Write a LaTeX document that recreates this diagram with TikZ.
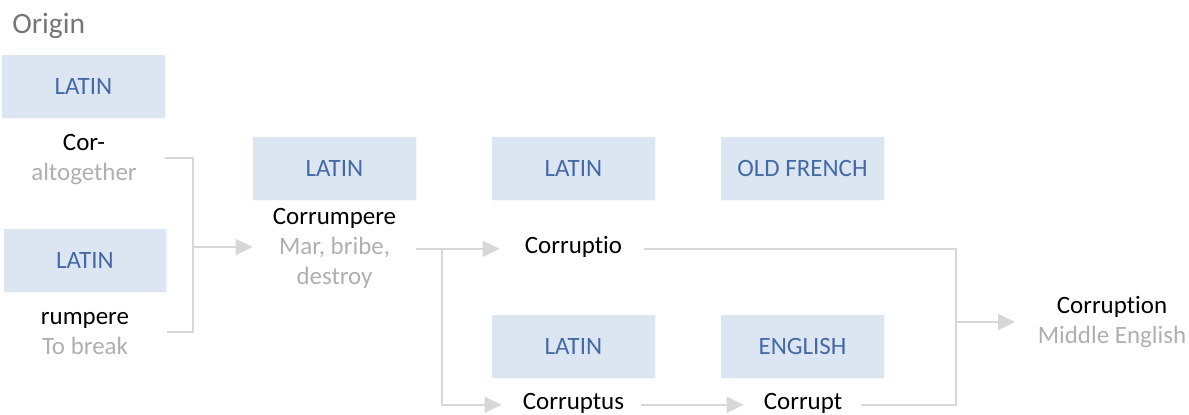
\documentclass[tikz,border=0pt]{standalone}
\usepackage{fontspec}
\setmainfont{Carlito}[Ligatures={NoCommon,NoRare}]
\usepackage{xcolor}
\definecolor{BoxBlue}{RGB}{220,230,242}
\definecolor{LangBlue}{RGB}{68,105,165}
\definecolor{Gloss}{RGB}{175,175,175}
\definecolor{Title}{RGB}{118,118,118}
\definecolor{Link}{RGB}{215,215,215}
\usetikzlibrary{arrows.meta,positioning,shadows}

\begin{document}
\begin{tikzpicture}[x=0.02cm, y=-0.02cm,
	lang/.style={fill=BoxBlue, text=LangBlue, minimum width=3.26cm, minimum height=1.26cm, inner sep=0pt,
		drop shadow={shadow xshift=0.6pt, shadow yshift=-0.6pt, opacity=0.06},
		font=\fontsize{14.2}{17}\selectfont},
	word/.style={text=black, inner sep=0pt, anchor=base, font=\fontsize{14.2}{17}\selectfont},
	gloss/.style={word, text=Gloss},
	link/.style={draw=Link, line width=1.1pt},
	flow/.style={link, -{Triangle[length=0.34cm, width=0.32cm, fill=Link]}}]
		
		\useasboundingbox (0,0) rectangle (1189,414);
		
		% Title
		\node[anchor=base west, text=Title, inner sep=0pt, font=\fontsize{16.8}{20}\selectfont] (origin) at (12,33) {Origin};
		
		% Language boxes
		\node[lang] (b1) at (83.5,86.5) {LATIN};
		\node[lang] (b2) at (85,260) {LATIN};
		\node[lang] (b3) at (334.5,168.5) {LATIN};
		\node[lang] (b4) at (573.5,168.5) {LATIN};
		\node[lang] (b5) at (802.5,168.5) {OLD FRENCH};
		\node[lang] (b6) at (573.5,346) {LATIN};
		\node[lang] (b7) at (802.5,346) {ENGLISH};
		
		% Words
		\node[word] (cor) at (84,150) {Cor-};
		\node[gloss] (cormean) at ([yshift=-0.6cm]cor.base) {altogether};
		\node[word] (rump) at (85,324) {rumpere};
		\node[gloss] (rumpmean) at ([yshift=-0.6cm]rump.base) {To break};
		\node[word] (corrum) at (334.5,224) {Corrumpere};
		\node[gloss] (corrummean) at ([yshift=-0.6cm]corrum.base) {Mar, bribe,};
		\node[gloss] (corrummeanb) at ([yshift=-0.6cm]corrummean.base) {destroy};
		\node[word] (corruptio) at (573.5,253) {Corruptio};
		\node[word] (corruptus) at (573.5,409) {Corruptus};
		\node[word] (corrupt) at (803,409) {Corrupt};
		\node[word] (corruption) at (1112,313) {Corruption};
		\node[gloss] (corruptionmean) at ([yshift=-0.6cm]corruption.base) {Middle English};
		
		% Joints
		\coordinate (jtop) at (193,158);
		\coordinate (jbot) at (193,332);
		\coordinate (jin) at (193,247);
		\coordinate (xsplit) at (442,0);
		\coordinate (xjoin) at (956,0);
		\coordinate (jout) at (956,322);
		\coordinate (outtip) at (1015,322);
		
		% Connectors
		\draw[link] (b1.east |- jtop) -- (jtop) -- (jbot) -- (b2.east |- jbot);
		\draw[flow] (jin) -- (b3.west |- jin);
		\draw[link] (b3.east |- corruptio.mid) -- (xsplit |- corruptio.mid);
		\draw[flow, shorten >=0.5cm] (xsplit |- corruptio.mid) -- (corruptio.mid -| corruptio.west);
		\draw[flow, shorten >=0.42cm] (xsplit |- corruptio.mid) |- (corruptus.mid -| corruptus.west);
		\draw[flow, shorten <=0.34cm, shorten >=0.4cm] (corruptus.mid -| corruptus.east) -- (corrupt.mid -| corrupt.west);
		\draw[link, shorten <=0.44cm, shorten >=0.36cm] (corruptio.mid -| corruptio.east) -- (xjoin |- corruptio.mid) -- (xjoin |- corrupt.mid) -- (corrupt.mid -| corrupt.east);
		\draw[flow] (jout) -- (outtip);
		
\end{tikzpicture}
\end{document}
